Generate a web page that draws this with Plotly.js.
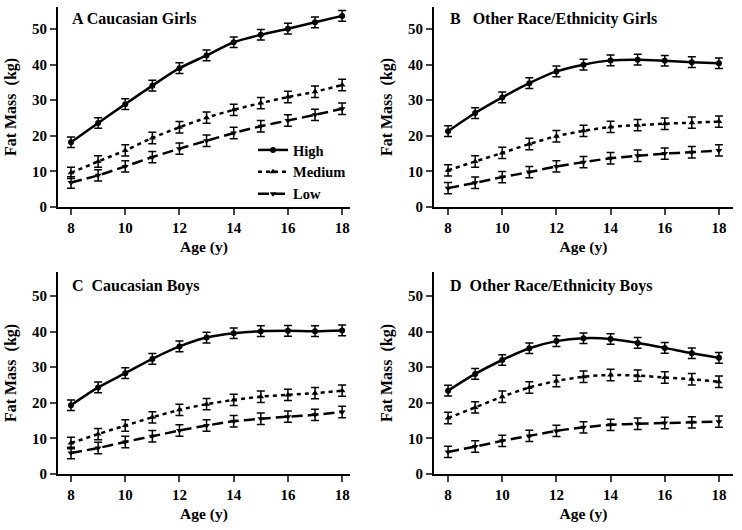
<!DOCTYPE html>
<html><head><meta charset="utf-8">
<script src="https://cdn.plot.ly/plotly-3.0.1.min.js"></script>
<style>html,body{margin:0;padding:0;background:#fff}</style>
</head><body>
<div id="chart" style="width:742px;height:530px"></div>
<script>
const ages = [8,9,10,11,12,13,14,15,16,17,18];
const seriesNames = ['High','Medium','Low'];
const panelTitles = ['A Caucasian Girls','B\u00a0\u00a0 Other Race/Ethnicity Girls','C\u00a0 Caucasian Boys','D\u00a0 Other Race/Ethnicity Boys'];

// Panel A: Caucasian Girls
const aHigh = [18.2,23.6,28.9,34.1,39.0,42.6,46.3,48.4,50.1,51.9,53.7];
const aMed  = [9.6,12.8,15.9,19.4,22.4,25.1,27.3,29.2,30.9,32.4,34.3];
const aLow  = [6.9,8.9,11.4,14.0,16.4,18.6,20.8,22.7,24.3,25.9,27.6];
// Panel B: Other Race/Ethnicity Girls
const bHigh = [21.3,26.4,30.8,34.8,38.1,40.0,41.2,41.4,41.1,40.7,40.4];
const bMed  = [10.3,12.8,15.2,17.7,19.9,21.4,22.5,23.0,23.4,23.7,24.0];
const bLow  = [5.3,6.8,8.4,9.8,11.4,12.6,13.7,14.4,15.0,15.4,15.9];
// Panel C: Caucasian Boys
const cHigh = [19.3,24.3,28.3,32.3,35.8,38.3,39.5,40.1,40.2,40.1,40.3];
const cMed  = [8.7,11.2,13.6,15.9,18.0,19.6,20.8,21.7,22.2,22.7,23.4];
const cLow  = [5.9,7.3,9.0,10.6,12.2,13.6,14.8,15.5,16.1,16.6,17.4];
// Panel D: Other Race/Ethnicity Boys
const dHigh = [23.4,28.1,32.0,35.3,37.3,38.1,37.9,36.8,35.4,33.9,32.6];
const dMed  = [15.7,18.7,21.7,24.3,26.1,27.3,27.8,27.6,27.1,26.6,25.9];
const dLow  = [6.2,7.7,9.3,10.7,12.1,13.1,13.8,14.1,14.3,14.5,14.7];
// Error bar half-widths (kg)
const errHigh = [1.5,1.5,1.5,1.5,1.5,1.5,1.5,1.5,1.5,1.5,1.5];
const errMed  = [1.6,1.6,1.6,1.6,1.6,1.6,1.6,1.6,1.6,1.6,1.6];
const errLow  = [1.6,1.6,1.6,1.6,1.6,1.6,1.6,1.6,1.6,1.6,1.6];

const panels = [[aHigh,aMed,aLow],[bHigh,bMed,bLow],[cHigh,cMed,cLow],[dHigh,dMed,dLow]];
const errs = [errHigh,errMed,errLow];
const styles = [
  {dash:'solid', symbol:'circle'},
  {dash:'4px,4px', symbol:'triangle-up'},
  {dash:'11px,5px', symbol:'triangle-down'}
];
const FONT = 'Liberation Serif, Times New Roman, serif';

const traces = [];
panels.forEach((p, pi) => {
  const ax = pi === 0 ? '' : String(pi+1);
  p.forEach((vals, si) => {
    traces.push({
      x: ages, y: vals, type:'scatter', mode:'lines+markers',
      name: seriesNames[si], showlegend: pi === 0,
      xaxis:'x'+ax, yaxis:'y'+ax,
      line:{color:'#000', width:2.5, dash:styles[si].dash, shape:'spline', smoothing:0.8},
      marker:{color:'#000', size:6, symbol:styles[si].symbol},
      error_y:{type:'data', array:errs[si], visible:true, color:'#000', thickness:1.5, width:4}
    });
  });
});

function xax(domain, range, anchor){
  return {domain, range, anchor, tickvals:[8,10,12,14,16,18], ticks:'outside', ticklen:6, tickwidth:2,
    showline:true, linewidth:2, linecolor:'#000', showgrid:false, zeroline:false,
    tickfont:{family:FONT, size:15, color:'#000', weight:'bold'},
    title:{text:'<b>Age (y)</b>', font:{family:FONT, size:15.5, color:'#000'}, standoff:6}};
}
function yax(domain, range, anchor){
  return {domain, range, anchor, tickvals:[0,10,20,30,40,50], ticks:'outside', ticklen:6, tickwidth:2,
    showline:true, linewidth:2, linecolor:'#000', showgrid:false, zeroline:false,
    tickfont:{family:FONT, size:15, color:'#000', weight:'bold'},
    title:{text:'<b>Fat Mass\u00a0\u00a0(kg)</b>', font:{family:FONT, size:16, color:'#000'}, standoff:11}};
}
const W = 742, H = 530;
const xA = [58/W, 350/W], xB = [434/W, 733/W];
const yTop = [1-207/H, 1-7/H], yBot = [1-474/H, 1-272/H];

const annPos = [[70,19],[448,19],[70,286],[448,286]];
const annotations = panelTitles.map((t,i)=>({
  text:'<b>'+t+'</b>', xref:'paper', yref:'paper', x:annPos[i][0]/W, y:1-annPos[i][1]/H,
  xanchor:'left', yanchor:'middle', showarrow:false,
  font:{family:FONT, size:16, color:'#000'}
}));

const layout = {
  width:W, height:H, margin:{l:0,r:0,t:0,b:0},
  paper_bgcolor:'#fff', plot_bgcolor:'#fff',
  xaxis: xax(xA,[7.52,18.29],'y'), yaxis: yax(yTop,[0,56.2],'x'),
  xaxis2: xax(xB,[7.48,18.52],'y2'), yaxis2: yax(yTop,[0,56.2],'x2'),
  xaxis3: xax(xA,[7.52,18.29],'y3'), yaxis3: yax(yBot,[0,56.7],'x3'),
  xaxis4: xax(xB,[7.48,18.52],'y4'), yaxis4: yax(yBot,[0,56.7],'x4'),
  annotations,
  showlegend:true,
  legend:{x:253/W, y:1-134/H, xanchor:'left', yanchor:'top', bgcolor:'rgba(0,0,0,0)',
    font:{family:FONT, size:14.5, color:'#000', weight:'bold'}, tracegroupgap:0, itemwidth:30}
};
Plotly.newPlot('chart', traces, layout, {displayModeBar:false, staticPlot:true});
</script>
</body></html>
